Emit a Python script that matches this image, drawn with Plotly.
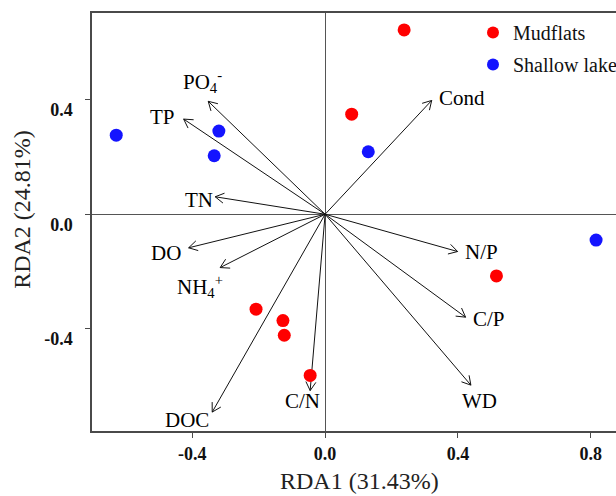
import math
import plotly.graph_objects as go

# ---------------- data ----------------
env_vars = ["Cond", "PO4", "TP", "TN", "DO", "NH4", "DOC", "C/N", "N/P", "C/P", "WD"]
env_labels = ["Cond", "PO<sub>4</sub><sup>-</sup>", "TP", "TN", "DO",
              "NH<sub>4</sub><sup>+</sup>", "DOC", "C/N", "N/P", "C/P", "WD"]
env_rda1 = [0.321, -0.352, -0.426, -0.331, -0.411, -0.316, -0.340, -0.045, 0.399, 0.423, 0.439]
env_rda2 = [0.397, 0.394, 0.332, 0.061, -0.117, -0.186, -0.690, -0.615, -0.130, -0.359, -0.596]

mud_rda1 = [0.238, 0.080, 0.516, -0.208, -0.127, -0.123, -0.045]
mud_rda2 = [0.643, 0.349, -0.215, -0.331, -0.371, -0.422, -0.562]

lake_rda1 = [-0.629, -0.320, -0.334, 0.130, 0.816]
lake_rda2 = [0.276, 0.290, 0.204, 0.218, -0.090]

x_ticks = [-0.4, 0.0, 0.4, 0.8]
x_ticktext = ["-0.4", "0.0", "0.4", "0.8"]
y_ticks = [-0.4, 0.0, 0.4]
y_ticktext = ["-0.4", "0.0", "0.4"]

# ---------------- layout geometry ----------------
W, H = 616, 496
M = dict(l=92, r=0, t=13, b=65, autoexpand=False)
x_range = [-0.702, 0.876]
y_range = [-0.756, 0.702]
plot_w = W - M["l"] - M["r"]
plot_h = H - M["t"] - M["b"]
sx = plot_w / (x_range[1] - x_range[0])
sy = plot_h / (y_range[1] - y_range[0])

# label pixel offsets (dx right, dy up) from arrow tips
label_shift = [(30, 2), (-6, 20), (-21, 2), (-16, -3), (-23, -5), (-20, -19),
               (-25, -8), (-8, -10), (24, 0), (23, -2), (9, -16)]

serif = "Liberation Serif"

fig = go.Figure()

shaft_x, shaft_y = [], []
head_x, head_y = [], []
head_len = 10.0
half_ang = math.radians(30)
for x, y in zip(env_rda1, env_rda2):
    shaft_x += [0, x, None]
    shaft_y += [0, y, None]
    px, py = x * sx, y * sy
    n = math.hypot(px, py)
    ux, uy = px / n, py / n
    for s in (1, -1):
        c, si = math.cos(s * half_ang), math.sin(s * half_ang)
        rx = ux * c - uy * si
        ry = ux * si + uy * c
        head_x += [x - head_len * rx / sx, x, None]
        head_y += [y - head_len * ry / sy, y, None]

fig.add_trace(go.Scatter(x=shaft_x, y=shaft_y, mode="lines",
                         line=dict(color="#111111", width=1), showlegend=False,
                         hoverinfo="skip"))
fig.add_trace(go.Scatter(x=head_x, y=head_y, mode="lines",
                         line=dict(color="#111111", width=1), showlegend=False,
                         hoverinfo="skip"))

fig.add_trace(go.Scatter(x=mud_rda1, y=mud_rda2, mode="markers", name="Mudflats",
                         legendgroup="a",
                         marker=dict(color="#ff0000", size=13, line=dict(width=0))))
fig.add_trace(go.Scatter(x=lake_rda1, y=lake_rda2, mode="markers", name="Shallow lake",
                         legendgroup="b",
                         marker=dict(color="#1414ff", size=13, line=dict(width=0))))

for lab, x, y, (dx, dy) in zip(env_labels, env_rda1, env_rda2, label_shift):
    fig.add_annotation(x=x, y=y, text=lab, showarrow=False, xshift=dx, yshift=dy,
                       xanchor="center", yanchor="middle",
                       font=dict(family=serif, size=21, color="#000000"))

# axis titles
fig.add_annotation(xref="paper", yref="paper", x=0.511, y=-(H - M["t"] - plot_h) / plot_h,
                   text="RDA1 (31.43%)", showarrow=False, xanchor="center", yanchor="bottom",
                   font=dict(family=serif, size=24, color="#222222"))
fig.add_annotation(xref="paper", yref="paper", x=-0.134, y=0.531, text="RDA2 (24.81%)",
                   showarrow=False, xanchor="center", yanchor="middle", textangle=-90,
                   font=dict(family=serif, size=24, color="#222222"))

axis_common = dict(showgrid=False, showline=True, linecolor="#4a4a4a", linewidth=1.5,
                   ticks="outside", ticklen=5, tickwidth=1.2, tickcolor="#4a4a4a",
                   zeroline=True, zerolinecolor="#555555", zerolinewidth=1.3,
                   tickfont=dict(family=serif, size=18, color="#111111", weight="bold"),
                   automargin=False)

fig.update_xaxes(range=x_range, tickvals=x_ticks, ticktext=x_ticktext, mirror=True,
                 ticklabelstandoff=1, **axis_common)
fig.update_yaxes(range=y_range, tickvals=y_ticks, ticktext=y_ticktext, mirror=False,
                 ticklabelstandoff=9, ticklabelshift=10, **axis_common)

fig.update_layout(
    width=W, height=H, margin=M,
    plot_bgcolor="white", paper_bgcolor="white",
    font=dict(family=serif),
    legend=dict(x=(473 - M["l"]) / plot_w, y=1.0, xanchor="left", yanchor="top",
                bgcolor="rgba(0,0,0,0)", font=dict(family=serif, size=20, color="#111111"),
                traceorder="grouped", tracegroupgap=3, itemsizing="constant",
                entrywidth=80, entrywidthmode="pixels"),
)

fig.write_html("out.html")
